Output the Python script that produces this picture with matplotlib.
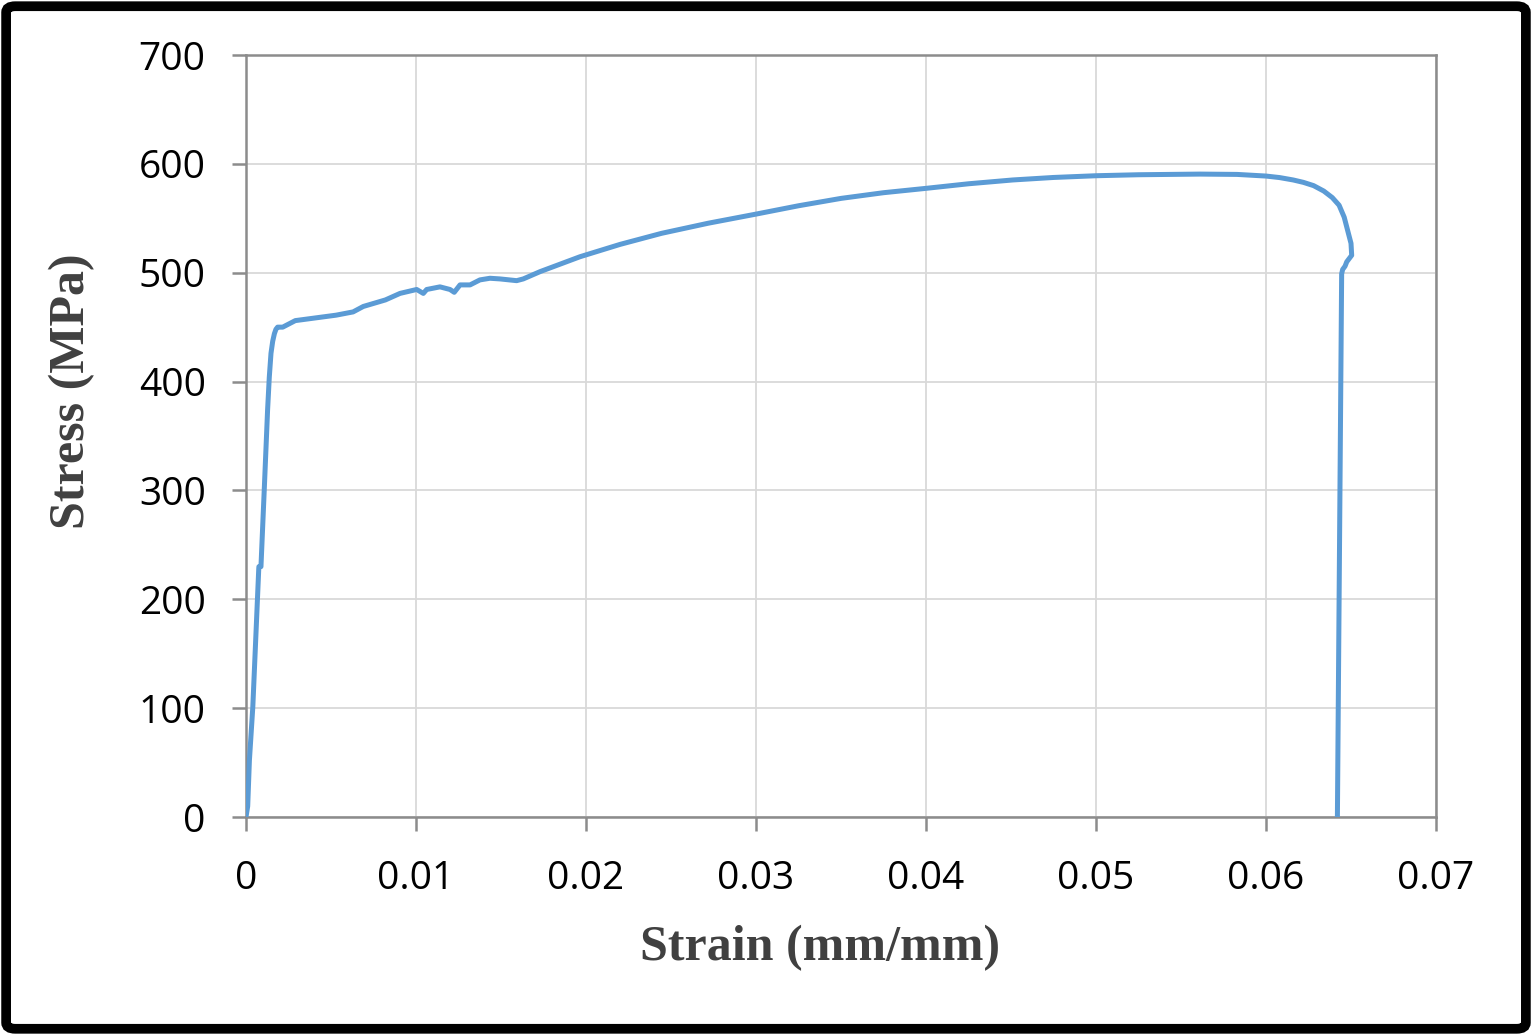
import matplotlib
matplotlib.use("Agg")
import matplotlib.pyplot as plt
from matplotlib.patches import FancyBboxPatch

strain = [0.0, 0.0001, 0.0002, 0.0004, 0.00075, 0.00076, 0.00088, 0.00108, 0.00127,
          0.00137, 0.00147, 0.00157, 0.00167, 0.00176, 0.00186, 0.00216, 0.0029,
          0.0053, 0.0063, 0.0069, 0.0082, 0.00906, 0.01004, 0.01043, 0.01063,
          0.01141, 0.012, 0.01225, 0.01259, 0.01318, 0.01376, 0.01435, 0.01494,
          0.01592, 0.01631, 0.0173, 0.0185, 0.01965, 0.022, 0.02445, 0.0272,
          0.03002, 0.0325, 0.03501, 0.0375, 0.04, 0.0425, 0.0451, 0.0475,
          0.05002, 0.0525, 0.05612, 0.0583, 0.0600, 0.0608, 0.0616, 0.0622,
          0.0628, 0.0634, 0.0639, 0.0643, 0.0646, 0.0648, 0.0650, 0.06504,
          0.06475, 0.06465, 0.06451, 0.06445, 0.0642]
stress = [0, 10, 52, 101, 228, 230, 230, 303, 374,
          404, 426, 437, 444, 448, 450, 450, 456,
          461, 464, 469, 475, 481, 484.6, 481, 484.6,
          487, 484.6, 482, 488.8, 488.8, 493.4, 494.9, 494.3,
          492.7, 494.3, 501, 508, 514.7, 526, 536.2, 545.5,
          553.9, 561.5, 568.3, 573.5, 577.5, 581.7, 585.2, 587.5,
          589.1, 590.0, 590.6, 590.3, 588.8, 587.4, 585.2, 583.0,
          580.0, 575.0, 569.0, 562.0, 551.0, 539.0, 527.0, 516.0,
          510, 506, 503, 499, 0]

x_ticks = [0, 0.01, 0.02, 0.03, 0.04, 0.05, 0.06, 0.07]
x_labels = ["0", "0.01", "0.02", "0.03", "0.04", "0.05", "0.06", "0.07"]
y_ticks = [0, 100, 200, 300, 400, 500, 600, 700]

fig = plt.figure(figsize=(15.32, 10.35), dpi=100)
ax = fig.add_axes([246/1532, 1-817/1035, (1436-246)/1532, (817-55)/1035])

ax.plot(strain, stress, color="#5b9bd5", lw=3.6, solid_joinstyle="round",
        solid_capstyle="butt", zorder=3)

ax.set_xlim(0, 0.07)
ax.set_ylim(0, 700)
ax.set_xticks(x_ticks)
ax.set_xticklabels(x_labels)
ax.set_yticks(y_ticks)
ax.grid(True, color="#d9d9d9", lw=1.3, zorder=0)
for s in ax.spines.values():
    s.set_color("#8c8c8c")
    s.set_linewidth(1.8)
ax.tick_params(axis="both", direction="out", length=10, width=1.8, color="#8c8c8c",
               labelsize=28, labelcolor="black")
ax.tick_params(axis="x", pad=21)
ax.tick_params(axis="y", pad=19)
for lab in ax.get_xticklabels() + ax.get_yticklabels():
    lab.set_family(["Open Sans", "DejaVu Sans"])

ax.set_xlabel("Strain (mm/mm)", fontsize=36, fontweight="bold",
              family=["Liberation Serif", "DejaVu Serif"], color="#404040",
              va="center", ha="center")
ax.xaxis.set_label_coords(0.482, -0.172)
ax.set_ylabel("Stress (MPa)", fontsize=36, fontweight="bold",
              family=["Liberation Serif", "DejaVu Serif"], color="#404040",
              va="center", ha="center")
ax.yaxis.set_label_coords(-0.146, 0.559)

border = FancyBboxPatch((0.004, 0.006), 0.992, 0.988, boxstyle="round,pad=0,rounding_size=0.006",
                        transform=fig.transFigure, fill=False, edgecolor="black", lw=7)
fig.patches.append(border)

fig.savefig("out.png", dpi=100)
